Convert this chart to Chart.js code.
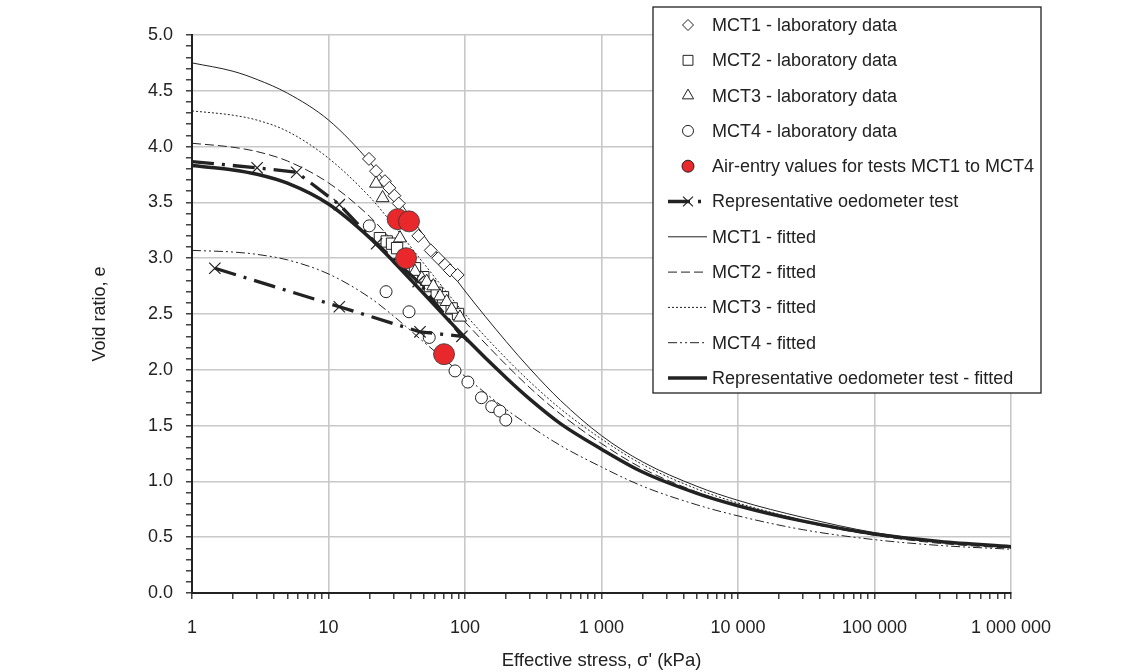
<!DOCTYPE html>
<html>
<head>
<meta charset="utf-8">
<script src="https://cdn.jsdelivr.net/npm/chart.js@4/dist/chart.umd.min.js"></script>
<style>
  body { margin: 0; background: #fff; }
  canvas { display: block; }
</style>
</head>
<body>
<canvas id="chart" width="1138" height="672"></canvas>
<script>

// stress steps (kPa) used by every fitted curve
const fitStress = [1, 2, 3, 5, 10, 20, 30, 50, 100, 200, 300, 500, 1000, 2000, 5000, 10000, 30000, 100000, 300000, 1000000]

const mct1Fit = [4.75, 4.675, 4.601, 4.479, 4.238, 3.862, 3.580, 3.203, 2.706, 2.254, 2.008, 1.726, 1.410, 1.175, 0.956, 0.830, 0.677, 0.541, 0.465, 0.413]
const mct2Fit = [4.03, 3.994, 3.955, 3.871, 3.675, 3.374, 3.145, 2.839, 2.430, 2.045, 1.837, 1.604, 1.339, 1.116, 0.905, 0.785, 0.637, 0.517, 0.445, 0.401]
const mct3Fit = [4.32, 4.281, 4.237, 4.137, 3.896, 3.550, 3.295, 2.951, 2.499, 2.102, 1.891, 1.651, 1.380, 1.151, 0.932, 0.806, 0.653, 0.527, 0.455, 0.408]
const mct4Fit = [3.07, 3.055, 3.034, 2.985, 2.859, 2.648, 2.481, 2.248, 1.941, 1.646, 1.495, 1.322, 1.129, 0.957, 0.790, 0.691, 0.567, 0.478, 0.426, 0.392]
const oedoFit = [3.83, 3.791, 3.752, 3.672, 3.485, 3.184, 2.969, 2.681, 2.290, 1.929, 1.735, 1.518, 1.289, 1.084, 0.893, 0.782, 0.644, 0.529, 0.462, 0.415]

// laboratory data [stress, void ratio]
const mct1Lab = [[19.8, 3.89], [22.3, 3.78], [25.9, 3.69], [27.9, 3.63], [30.4, 3.56], [32.7, 3.49], [45.5, 3.20], [56.1, 3.07], [63.7, 3.00], [71.3, 2.94], [77.6, 2.89], [88.3, 2.85]]
const mct2Lab = [[23.8, 3.18], [26.7, 3.15], [29.2, 3.13], [31.8, 3.09], [36.3, 3.02], [43.0, 2.91], [49.5, 2.83], [55.4, 2.75], [62.1, 2.69], [69.0, 2.65], [79.9, 2.55], [88.9, 2.50]]
const mct3Lab = [[22.3, 3.67], [24.9, 3.54], [33.4, 3.18], [43.0, 2.88], [48.2, 2.82], [52.4, 2.79], [58.6, 2.75], [65.6, 2.66], [73.4, 2.61], [79.9, 2.54], [91.9, 2.47]]
const mct4Lab = [[19.9, 3.29], [26.4, 2.70], [38.9, 2.52], [54.7, 2.29], [84.5, 1.99], [105, 1.89], [132, 1.75], [157, 1.67], [180, 1.63], [199, 1.55]]
const airEntry = [[32.1, 3.35], [38.9, 3.33], [37.0, 3.00], [70.2, 2.14]]

// loading then unloading path of the oedometer test
const oedoTest = [[1, 3.865], [3.0, 3.81], [5.84, 3.77], [12.0, 3.48], [22.5, 3.13], [45.4, 2.79], [95, 2.30], [46.8, 2.34], [12.0, 2.565], [1.47, 2.91]]

const xTicks = [1, 10, 100, 1000, 10000, 100000, 1000000]
const yTicks = [0, 0.5, 1, 1.5, 2, 2.5, 3, 3.5, 4, 4.5, 5]

const ink = '#222'
const grid = '#c8c8c8'


function pairs(list){ return list.map(p => ({ x: p[0], y: p[1] })) }
function curve(ys){ return fitStress.map((x, i) => ({ x: x, y: ys[i] })) }

function fitted(label, ys, dash, width, order){
      return {
            label: label,
            data: curve(ys),
            showLine: true,
            borderColor: ink,
            borderWidth: width,
            borderDash: dash,
            pointRadius: 0,
            cubicInterpolationMode: 'monotone',
            order: order
      }
}

function lab(label, list, style, radius, legendRadius, order){
      return {
            label: label,
            data: pairs(list),
            showLine: false,
            pointStyle: style,
            pointRadius: radius,
            pointBackgroundColor: '#fff',
            pointBorderColor: ink,
            pointBorderWidth: 1,
            legendRadius: legendRadius,
            order: order
      }
}

// legend order = dataset order
const datasets = [
      lab('MCT1 - laboratory data', mct1Lab, 'rectRot', 6.5, 5.5, 5),
      lab('MCT2 - laboratory data', mct2Lab, 'rect', 8, 7, 4),
      lab('MCT3 - laboratory data', mct3Lab, 'triangle', 7.5, 6.5, 3),
      lab('MCT4 - laboratory data', mct4Lab, 'circle', 6, 5.5, 2),
      {
            label: 'Air-entry values for tests MCT1 to MCT4',
            data: pairs(airEntry),
            showLine: false,
            pointStyle: 'circle',
            pointRadius: 10.5,
            pointBackgroundColor: '#e8282b',
            pointBorderColor: '#333',
            pointBorderWidth: 0.8,
            legendRadius: 6,
            order: 0
      },
      {
            label: 'Representative oedometer test',
            data: pairs(oedoTest),
            showLine: true,
            borderColor: ink,
            borderWidth: 3.3,
            borderDash: [22, 8, 3, 8],
            tension: 0,
            pointStyle: 'crossRot',
            pointRadius: c => c.dataIndex === 0 ? 0 : 8,
            pointBorderColor: ink,
            pointBorderWidth: 1.2,
            order: 1
      },
      fitted('MCT1 - fitted', mct1Fit, [], 1, 10),
      fitted('MCT2 - fitted', mct2Fit, [9, 4], 1, 10),
      fitted('MCT3 - fitted', mct3Fit, [2, 2], 1, 10),
      fitted('MCT4 - fitted', mct4Fit, [9, 3, 2, 3, 2, 3], 1, 10),
      fitted('Representative oedometer test - fitted', oedoFit, [], 3.5, 9),
]


function marker(ctx, style, x, y, r){
      ctx.beginPath()
      if(style === 'rectRot'){ ctx.moveTo(x, y - r); ctx.lineTo(x + r, y); ctx.lineTo(x, y + r); ctx.lineTo(x - r, y); ctx.closePath() }
      if(style === 'rect')   { const s = r * Math.SQRT1_2; ctx.rect(x - s, y - s, 2 * s, 2 * s) }
      if(style === 'triangle'){ ctx.moveTo(x, y - r); ctx.lineTo(x + r * 0.866, y + r * 0.5); ctx.lineTo(x - r * 0.866, y + r * 0.5); ctx.closePath() }
      if(style === 'circle') { ctx.arc(x, y, r, 0, Math.PI * 2) }
      if(style === 'crossRot'){ const s = r * Math.SQRT1_2; ctx.moveTo(x - s, y - s); ctx.lineTo(x + s, y + s); ctx.moveTo(x + s, y - s); ctx.lineTo(x - s, y + s) }
}


// boxed legend sitting over the top right of the plot
const legendBox = {
      id: 'legendBox',
      afterDraw(chart){
            const ctx = chart.ctx
            const box = { left: 653, top: 7, right: 1041, bottom: 393 }
            const rowTop = 25, rowStep = 35.3

            ctx.save()
            ctx.fillStyle = '#fff'
            ctx.fillRect(box.left, box.top, box.right - box.left, box.bottom - box.top)
            ctx.strokeStyle = ink
            ctx.lineWidth = 1.3
            ctx.strokeRect(box.left, box.top, box.right - box.left, box.bottom - box.top)

            ctx.font = '18px "Liberation Sans", Arial, sans-serif'
            ctx.textBaseline = 'middle'

            chart.data.datasets.forEach((ds, i) => {
                  const y = rowTop + i * rowStep
                  ctx.strokeStyle = ink

                  if(ds.showLine){
                        ctx.lineWidth = ds.borderWidth
                        ctx.setLineDash(ds.borderDash || [])
                        ctx.beginPath()
                        ctx.moveTo(668, y)
                        ctx.lineTo(707, y)
                        ctx.stroke()
                        ctx.setLineDash([])
                        if(ds.pointStyle === 'crossRot'){
                              ctx.lineWidth = 1.2
                              marker(ctx, 'crossRot', 688, y, 7)
                              ctx.stroke()
                        }
                  } else {
                        ctx.lineWidth = 1
                        ctx.fillStyle = ds.pointBackgroundColor
                        marker(ctx, ds.pointStyle, 688, y, ds.legendRadius)
                        ctx.fill()
                        ctx.stroke()
                  }

                  ctx.fillStyle = ink
                  ctx.fillText(ds.label, 712, y + 1)
            })
            ctx.restore()
      }
}


function spaced(v){ return String(v).replace(/\B(?=(\d{3})+(?!\d))/g, ' ') }

function xMinor(){
      const list = []
      for(let d = 1; d < 1000000; d *= 10){
            for(let k = 1; k < 10; k++){ list.push(d * k) }
      }
      list.push(1000000)
      return list
}

function yMinor(){
      const list = []
      for(let i = 0; i <= 50; i++){ list.push(i / 10) }
      return list
}

const isDecade = v => xTicks.includes(v)
const isHalf   = v => yTicks.some(t => Math.abs(t - v) < 1e-6)


Chart.defaults.font.family = '"Liberation Sans", Arial, sans-serif'
Chart.defaults.font.size = 18
Chart.defaults.color = ink

new Chart(document.getElementById('chart'), {
      type: 'scatter',
      data: { datasets: datasets },
      options: {
            responsive: false,
            animation: false,
            layout: { padding: { left: 89, top: 35, right: 127, bottom: 0 } },
            plugins: {
                  legend: { display: false },
                  tooltip: { enabled: false }
            },
            scales: {
                  x: {
                        type: 'logarithmic',
                        min: 1,
                        max: 1000000,
                        afterBuildTicks: s => { s.ticks = xMinor().map(v => ({ value: v })) },
                        afterFit: s => { s.height = 79 },
                        ticks: {
                              autoSkip: false,
                              maxRotation: 0,
                              padding: 18,
                              callback: v => isDecade(v) ? spaced(v) : ''
                        },
                        grid: {
                              color: c => c.tick && isDecade(c.tick.value) ? grid : 'rgba(0,0,0,0)',
                              lineWidth: 1.6,
                              tickColor: ink,
                              tickLength: 6,
                              tickWidth: 1.3
                        },
                        border: { color: ink, width: 2 },
                        title: { display: true, text: "Effective stress, σ' (kPa)", padding: 0, font: { size: 18.5 } }
                  },
                  y: {
                        min: 0,
                        max: 5,
                        afterBuildTicks: s => { s.ticks = yMinor().map(v => ({ value: v })) },
                        afterFit: s => { s.width = 103 },
                        ticks: {
                              autoSkip: false,
                              padding: 13,
                              callback: v => isHalf(v) ? v.toFixed(1) : ''
                        },
                        grid: {
                              color: c => c.tick && isHalf(c.tick.value) ? grid : 'rgba(0,0,0,0)',
                              lineWidth: 1.6,
                              tickColor: ink,
                              tickLength: 6,
                              tickWidth: 1.3
                        },
                        border: { color: ink, width: 2 },
                        title: { display: true, text: 'Void ratio, e', padding: 0 }
                  }
            }
      },
      plugins: [legendBox]
})

</script>
</body>
</html>
